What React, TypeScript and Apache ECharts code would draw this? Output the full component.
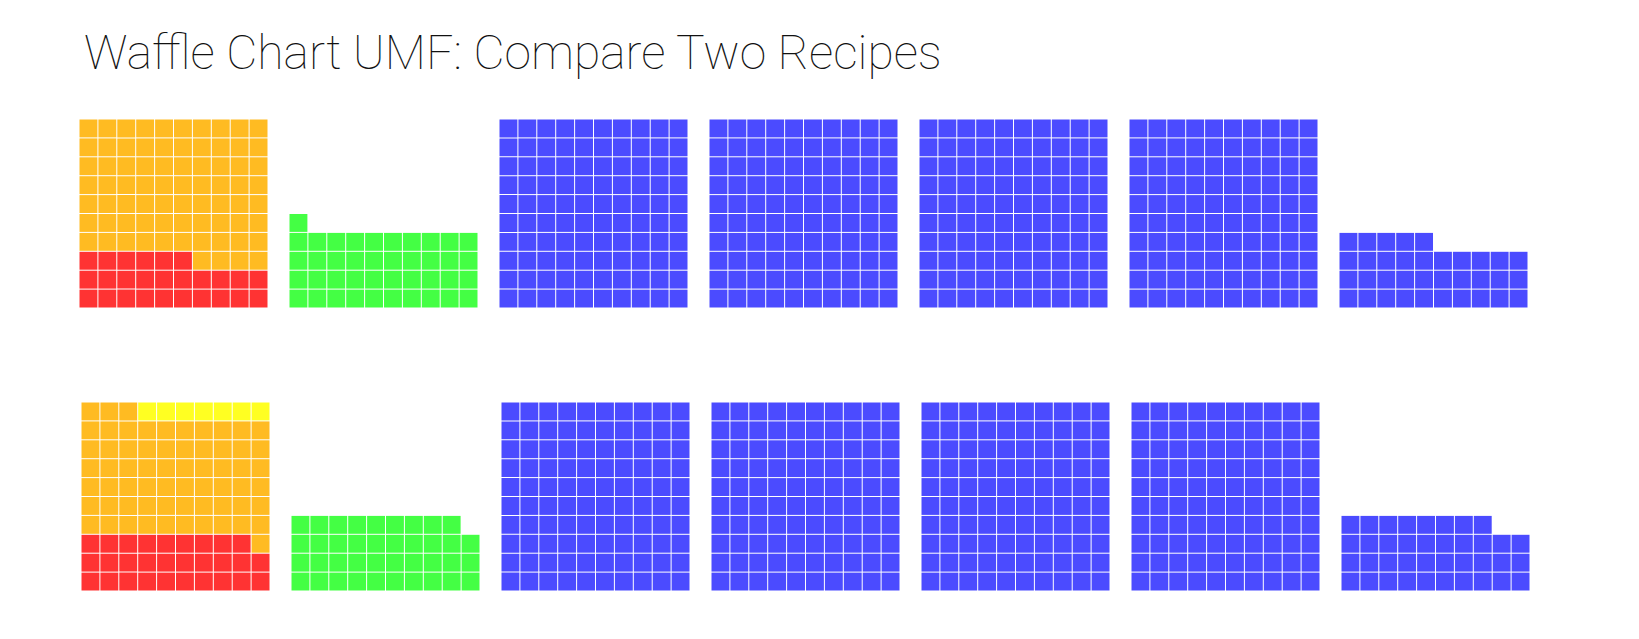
import React, { useEffect, useRef } from "react";
import * as echarts from "echarts";

const chartTitle = "Waffle Chart UMF: Compare Two Recipes";
const oxides = ["KNaO", "CaO", "MgO", "Al2O3", "SiO2"];
const oxideColors = ["#FF3333", "#FFBB22", "#FFFF22", "#44FF44", "#4B4BFF"];
const recipeA = [0.26, 0.74, 0.0, 0.41, 4.35];
const recipeB = [0.29, 0.64, 0.07, 0.39, 4.38];
const recipes = [recipeA, recipeB];
// oxide groups: fluxes, alumina, silica
const oxideGroups = [[0, 1, 2], [3], [4]];
const cellsPerPanel = 100;
const silicaPanels = 5;

function buildPanels(values: number[]) {
  const panels: number[][][] = [];
  oxideGroups.forEach((group, gi) => {
    const seq: number[] = [];
    group.forEach((oi) => {
      const n = Math.round(values[oi] * cellsPerPanel);
      for (let i = 0; i < n; i++) seq.push(oi);
    });
    const count = gi === 2 ? silicaPanels : Math.max(1, Math.ceil(seq.length / cellsPerPanel));
    for (let p = 0; p < count; p++) {
      const chunk = seq.slice(p * cellsPerPanel, (p + 1) * cellsPerPanel);
      panels.push(chunk.map((oi, k) => [k % 10, Math.floor(k / 10), oi]));
    }
  });
  return panels;
}

export default function App() {
  const ref = useRef<HTMLDivElement>(null);
  useEffect(() => {
    document.body.style.margin = "0";
    document.body.style.overflow = "hidden";
    const chart = echarts.init(ref.current!, null, { renderer: "svg" });
    const rowLeft = [79, 81];
    const rowTop = [119, 402];
    const pitch = 210;
    const size = 189;
    const grids: any[] = [];
    const xAxes: any[] = [];
    const yAxes: any[] = [];
    const series: any[] = [];
    recipes.forEach((vals, ri) => {
      buildPanels(vals).forEach((cells, pi) => {
        const idx = grids.length;
        grids.push({ left: rowLeft[ri] + pi * pitch, top: rowTop[ri], width: size, height: size });
        xAxes.push({ type: "value", gridIndex: idx, min: 0, max: 10, show: false });
        yAxes.push({ type: "value", gridIndex: idx, min: 0, max: 10, show: false });
        series.push({
          type: "custom",
          name: "Recipe " + (ri + 1) + " panel " + (pi + 1),
          xAxisIndex: idx,
          yAxisIndex: idx,
          data: cells,
          renderItem: (params: any, api: any) => {
            const c = api.value(0);
            const r = api.value(1);
            const k = api.value(2);
            const p = api.coord([c, r + 1]);
            const s = api.size([1, 1]);
            return {
              type: "rect",
              shape: { x: p[0] + 0.5, y: p[1] + 0.5, width: s[0] - 1, height: s[1] - 1 },
              style: { fill: oxideColors[k] },
            };
          },
        });
      });
    });
    chart.setOption({
      animation: false,
      backgroundColor: "#ffffff",
      title: {
        text: chartTitle,
        left: 79,
        top: 23,
        textStyle: { fontFamily: "Roboto", fontWeight: 100, fontSize: 48, color: "#111111" },
      },
      grid: grids,
      xAxis: xAxes,
      yAxis: yAxes,
      series,
    });
    return () => chart.dispose();
  }, []);
  return <div ref={ref} style={{ width: 1639, height: 639 }} />;
}
